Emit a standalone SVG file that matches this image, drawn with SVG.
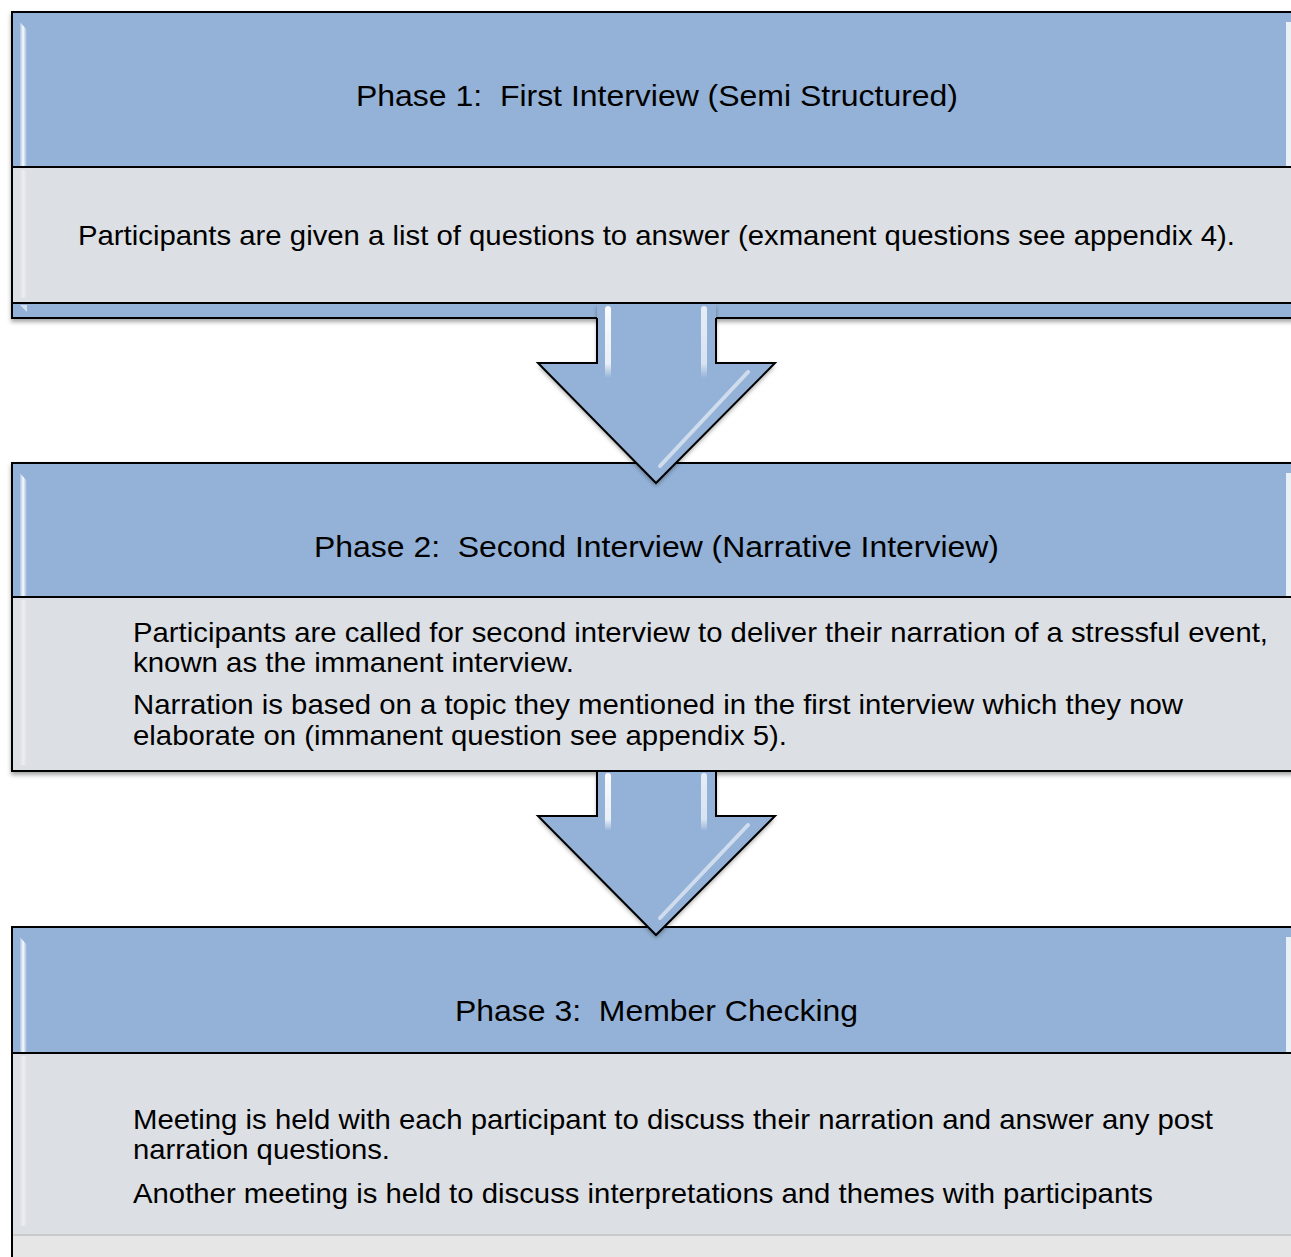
<svg xmlns="http://www.w3.org/2000/svg" width="1291" height="1257" viewBox="0 0 1291 1257">
<defs>
<filter id="sh" x="-5%" y="-5%" width="110%" height="115%">
<feDropShadow dx="0" dy="3" stdDeviation="2" flood-color="#000" flood-opacity="0.35"/>
</filter>
<linearGradient id="hlV" x1="0" y1="0" x2="1" y2="0">
<stop offset="0" stop-color="#ffffff" stop-opacity="0.2"/>
<stop offset="0.45" stop-color="#ffffff" stop-opacity="0.95"/>
<stop offset="1" stop-color="#ffffff" stop-opacity="0"/>
</linearGradient>
<linearGradient id="hlG" x1="0" y1="0" x2="1" y2="0">
<stop offset="0" stop-color="#ffffff" stop-opacity="0.1"/>
<stop offset="0.5" stop-color="#ffffff" stop-opacity="0.45"/>
<stop offset="1" stop-color="#ffffff" stop-opacity="0"/>
</linearGradient>
<linearGradient id="shaftHL" x1="0" y1="0" x2="0" y2="1">
<stop offset="0" stop-color="#ffffff" stop-opacity="0.95"/>
<stop offset="0.8" stop-color="#ffffff" stop-opacity="0.8"/>
<stop offset="1" stop-color="#ffffff" stop-opacity="0"/>
</linearGradient>
</defs>
<style>
.blue{fill:#94b2d7;stroke:#000;stroke-width:2}
.gray{fill:#dcdfe3;stroke:#000;stroke-width:2}
.title{font-family:"Liberation Sans",Arial,sans-serif;font-size:30px;fill:#000;text-anchor:middle;white-space:pre}
.body{font-family:"Liberation Sans",Arial,sans-serif;font-size:28px;fill:#000}
.afill{fill:#94b2d7;stroke:none}
.aline{fill:none;stroke:#000;stroke-width:2;stroke-linejoin:miter}
</style>
<rect x="0" y="0" width="1291" height="1257" fill="#ffffff"/>

<g id="phase1">
<rect class="blue" x="12" y="12" width="1290" height="306" filter="url(#sh)"/>
<path d="M20,22 L27,30 L27,167 L20,167 Z" fill="url(#hlV)"/>
<rect x="1286" y="22" width="5" height="145" fill="#ffffff" opacity="0.8"/>
<rect class="gray" x="12" y="167" width="1290" height="136"/>
<rect x="20" y="170" width="7" height="128" fill="url(#hlG)"/>
<path d="M20,305 L27,305 L27,312 Z" fill="#ffffff" opacity="0.6"/>
<text class="title" x="657" y="106" textLength="602" lengthAdjust="spacingAndGlyphs" xml:space="preserve">Phase 1:  First Interview (Semi Structured)</text>
<text class="body" x="656.5" y="245" text-anchor="middle" textLength="1157" lengthAdjust="spacingAndGlyphs">Participants are given a list of questions to answer (exmanent questions see appendix 4).</text>
</g>

<g id="phase2">
<rect class="blue" x="12" y="463" width="1290" height="308" filter="url(#sh)"/>
<path d="M20,473 L27,481 L27,597 L20,597 Z" fill="url(#hlV)"/>
<rect x="1286" y="473" width="5" height="124" fill="#ffffff" opacity="0.8"/>
<rect class="gray" x="12" y="597" width="1290" height="174"/>
<rect x="20" y="600" width="7" height="165" fill="url(#hlG)"/>
<text class="title" x="656.5" y="557" textLength="685" lengthAdjust="spacingAndGlyphs" xml:space="preserve">Phase 2:  Second Interview (Narrative Interview)</text>
<text class="body" x="133" y="642" textLength="1135" lengthAdjust="spacingAndGlyphs">Participants are called for second interview to deliver their narration of a stressful event,</text>
<text class="body" x="133" y="672" textLength="441" lengthAdjust="spacingAndGlyphs">known as the immanent interview.</text>
<text class="body" x="133" y="714" textLength="1050" lengthAdjust="spacingAndGlyphs">Narration is based on a topic they mentioned in the first interview which they now</text>
<text class="body" x="133" y="745" textLength="654" lengthAdjust="spacingAndGlyphs">elaborate on (immanent question see appendix 5).</text>
</g>

<g id="phase3">
<rect class="blue" x="12" y="927" width="1290" height="360"/>
<path d="M20,937 L27,945 L27,1053 L20,1053 Z" fill="url(#hlV)"/>
<rect x="1286" y="937" width="5" height="116" fill="#ffffff" opacity="0.8"/>
<rect class="gray" x="12" y="1053" width="1290" height="230"/>
<rect x="20" y="1056" width="7" height="170" fill="url(#hlG)"/>
<rect x="13" y="1234" width="1278" height="2" fill="#c8cacc"/>
<rect x="13" y="1236" width="1278" height="21" fill="#e6e6e6"/>
<text class="title" x="656.5" y="1021" textLength="403" lengthAdjust="spacingAndGlyphs" xml:space="preserve">Phase 3:  Member Checking</text>
<text class="body" x="133" y="1129" textLength="1080" lengthAdjust="spacingAndGlyphs">Meeting is held with each participant to discuss their narration and answer any post</text>
<text class="body" x="133" y="1159" textLength="257" lengthAdjust="spacingAndGlyphs">narration questions.</text>
<text class="body" x="133" y="1203" textLength="1020" lengthAdjust="spacingAndGlyphs">Another meeting is held to discuss interpretations and themes with participants</text>
</g>

<g id="connectors">
<g id="arrow1">
<path class="afill" d="M597,304 H716 V363 H775 L656,483 L538,363 H597 Z" filter="url(#sh)"/>
<path class="aline" d="M597,318 V363 H538 L656,483 L775,363 H716 V318"/>
<rect x="605" y="306" width="6" height="72" rx="3" fill="url(#shaftHL)"/>
<rect x="701" y="306" width="6" height="72" rx="3" fill="url(#shaftHL)" opacity="0.8"/>
<path d="M748,372 L660,466" stroke="#ffffff" stroke-width="4" stroke-linecap="round" opacity="0.55"/>
</g>
<g id="arrow2">
<path class="afill" d="M597,772 H716 V816 H775 L656,935 L538,816 H597 Z" filter="url(#sh)"/>
<path class="aline" d="M597,771 V816 H538 L656,935 L775,816 H716 V771"/>
<rect x="605" y="773" width="6" height="58" rx="3" fill="url(#shaftHL)"/>
<rect x="701" y="773" width="6" height="58" rx="3" fill="url(#shaftHL)" opacity="0.8"/>
<path d="M748,825 L660,918" stroke="#ffffff" stroke-width="4" stroke-linecap="round" opacity="0.55"/>
</g>
</g>
</svg>
